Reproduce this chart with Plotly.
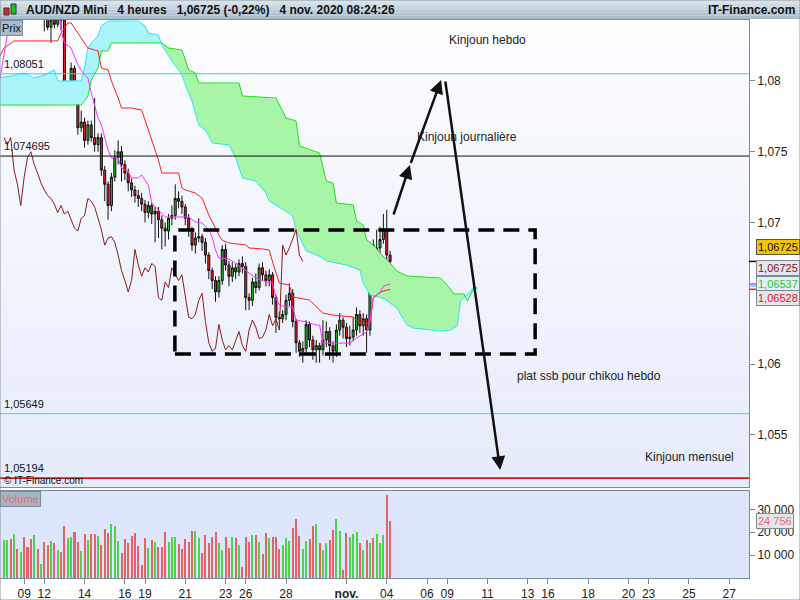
import numpy as np
import plotly.graph_objects as go

# ---------------- data ----------------
bar_index = list(range(116))

opens = [1.0852,1.0854,1.0857,1.0855,1.0861,1.0857,1.0859,1.0856,1.0853,1.0850,
         1.0852,1.0849,1.0852,1.0847,1.0838,1.0843,1.0840,1.0845,1.0843,1.0792,
         1.0795,1.0809,1.0790,1.0767,1.0771,1.0758,1.0769,1.0760,1.0755,1.0760,
         1.0737,1.0727,1.0712,1.0732,1.0746,1.0750,1.0741,1.0735,1.0728,1.0723,
         1.0719,1.0717,1.0713,1.0707,1.0712,1.0706,1.0708,1.0702,1.0696,1.0694,
         1.0703,1.0705,1.0717,1.0715,1.0711,1.0703,1.0695,1.0684,1.0689,1.0690,
         1.0686,1.0677,1.0666,1.0659,1.0651,1.0659,1.0681,1.0670,1.0662,1.0668,
         1.0665,1.0671,1.0669,1.0647,1.0645,1.0658,1.0654,1.0668,1.0663,1.0659,
         1.0663,1.0647,1.0633,1.0632,1.0635,1.0645,1.0650,1.0630,1.0615,1.0609,
         1.0611,1.0628,1.0617,1.0610,1.0613,1.0610,1.0617,1.0623,1.0613,1.0609,
         1.0624,1.0631,1.0626,1.0618,1.0619,1.0624,1.0635,1.0627,1.0632,1.0624,
         1.0684,1.0677,1.0682,1.0688,1.0695,1.0677]
highs = [1.0858,1.0860,1.0861,1.0864,1.0863,1.0862,1.0861,1.0858,1.0855,1.0854,
         1.0854,1.0854,1.0854,1.0849,1.0846,1.0846,1.0848,1.0850,1.0846,1.0800,
         1.0813,1.0811,1.0792,1.0779,1.0774,1.0772,1.0772,1.0788,1.0763,1.0763,
         1.0740,1.0729,1.0735,1.0751,1.0758,1.0754,1.0744,1.0738,1.0731,1.0726,
         1.0723,1.0721,1.0716,1.0715,1.0714,1.0711,1.0711,1.0705,1.0700,1.0706,
         1.0712,1.0727,1.0722,1.0719,1.0713,1.0706,1.0697,1.0693,1.0703,1.0692,
         1.0689,1.0679,1.0668,1.0662,1.0662,1.0684,1.0685,1.0673,1.0672,1.0671,
         1.0674,1.0676,1.0672,1.0650,1.0661,1.0664,1.0671,1.0672,1.0666,1.0667,
         1.0665,1.0649,1.0637,1.0638,1.0649,1.0657,1.0653,1.0632,1.0617,1.0616,
         1.0631,1.0630,1.0620,1.0617,1.0615,1.0631,1.0630,1.0626,1.0616,1.0628,
         1.0636,1.0633,1.0629,1.0627,1.0633,1.0640,1.0638,1.0636,1.0635,1.0686,
         1.0688,1.0695,1.0697,1.0706,1.0709,1.0680]
lows = [1.0849,1.0851,1.0852,1.0853,1.0855,1.0855,1.0853,1.0850,1.0848,1.0847,
        1.0847,1.0847,1.0835,1.0836,1.0827,1.0837,1.0838,1.0836,1.0789,1.0788,
        1.0792,1.0786,1.0762,1.0764,1.0753,1.0755,1.0757,1.0750,1.0750,1.0733,
        1.0715,1.0702,1.0708,1.0729,1.0741,1.0729,1.0730,1.0722,1.0718,1.0714,
        1.0711,1.0708,1.0700,1.0703,1.0699,1.0686,1.0689,1.0681,1.0683,1.0688,
        1.0698,1.0702,1.0710,1.0706,1.0698,1.0690,1.0680,1.0678,1.0686,1.0680,
        1.0671,1.0660,1.0653,1.0644,1.0647,1.0656,1.0666,1.0655,1.0658,1.0660,
        1.0662,1.0664,1.0638,1.0638,1.0641,1.0650,1.0652,1.0659,1.0655,1.0655,
        1.0642,1.0622,1.0628,1.0629,1.0631,1.0641,1.0626,1.0608,1.0605,1.0601,
        1.0607,1.0612,1.0603,1.0601,1.0601,1.0606,1.0612,1.0603,1.0601,1.0605,
        1.0620,1.0618,1.0612,1.0613,1.0616,1.0620,1.0622,1.0620,1.0608,1.0620,
        1.0662,1.0673,1.0675,1.0685,1.0650,1.0669]
closes = [1.0854,1.0857,1.0855,1.0861,1.0857,1.0859,1.0856,1.0853,1.0850,1.0852,
          1.0849,1.0852,1.0847,1.0838,1.0843,1.0840,1.0845,1.0843,1.0792,1.0795,
          1.0809,1.0790,1.0767,1.0771,1.0758,1.0769,1.0760,1.0755,1.0760,1.0737,
          1.0727,1.0712,1.0732,1.0746,1.0750,1.0741,1.0735,1.0728,1.0723,1.0719,
          1.0717,1.0713,1.0707,1.0712,1.0706,1.0708,1.0702,1.0696,1.0694,1.0703,
          1.0705,1.0717,1.0715,1.0711,1.0703,1.0695,1.0684,1.0689,1.0690,1.0686,
          1.0677,1.0666,1.0659,1.0651,1.0659,1.0681,1.0670,1.0662,1.0668,1.0665,
          1.0671,1.0669,1.0647,1.0645,1.0658,1.0654,1.0668,1.0663,1.0659,1.0663,
          1.0647,1.0633,1.0632,1.0635,1.0645,1.0650,1.0630,1.0615,1.0609,1.0611,
          1.0628,1.0617,1.0610,1.0613,1.0610,1.0617,1.0623,1.0613,1.0609,1.0624,
          1.0631,1.0626,1.0618,1.0619,1.0624,1.0635,1.0627,1.0632,1.0624,1.0684,
          1.0677,1.0682,1.0688,1.0695,1.0677,1.06725]
volumes = [16600,16600,17000,19200,12700,11400,17900,13500,17000,18800,
           12700,6100,15700,14400,16200,15300,12200,11400,22700,17500,
           17900,20100,15700,11800,19200,16600,19200,19200,18300,14400,
           21400,19700,23600,22700,16200,10900,17000,15300,18300,19700,
           14000,5700,17500,13100,16600,15700,13500,13500,20100,15700,
           17900,17900,14900,12700,17000,15700,20500,20500,17500,10900,
           18800,15300,17900,20100,15300,12200,17900,13100,17900,17500,
           14400,4800,17900,15700,18800,18800,15700,10500,19700,17500,
           17900,17900,12700,14400,17500,16200,21800,25800,18300,12700,
           16200,17000,22700,23600,15300,12200,15300,16600,21000,25800,
           20500,3500,19700,17900,19200,20100,15300,12200,16600,15300,
           17500,19200,15300,18800,36200,24756]

tenkan_idx = [-2,-1,0,1,2,5,10,16,17,18,20,22,24,25,26,28,29,31,32,34,35,37,38,40,41,43,44,
              46,48,50,55,57,59,61,62,63,64,67,69,71,73,75,78,80,81,82,84,86,87,90,93,94,95,
              103,105,108,109,110,112,113,115]
tenkan_val = [1.0797,1.08042,1.08184,1.08325,1.08466,1.0858,1.0859,1.0855,1.0836,1.08269,1.08233,
              1.08113,1.08042,1.08021,1.07915,1.07739,1.07689,1.07512,1.07456,1.07456,1.07385,
              1.07357,1.07315,1.07315,1.07336,1.07265,1.07138,1.07088,1.07039,1.07039,1.07039,
              1.07004,1.06997,1.06947,1.06898,1.06806,1.06749,1.06742,1.06714,1.06678,1.06643,
              1.06608,1.0658,1.06572,1.06466,1.06417,1.06403,1.06403,1.06311,1.06297,1.06276,
              1.06276,1.06148,1.06148,1.06184,1.06226,1.06311,1.06474,1.06502,1.06551,1.06565]

kijun_idx = [-2,-1,0,3,16,17,19,20,23,25,28,29,31,32,34,35,38,41,42,43,44,45,46,47,52,53,54,
             57,59,61,62,64,65,67,72,73,77,79,80,82,85,86,91,93,95,98,104,106,109,110,112,115]
kijun_val = [1.0814,1.08184,1.08233,1.08283,1.08283,1.08339,1.0841,1.0841,1.08304,1.08233,
             1.08212,1.08092,1.08078,1.08,1.0788,1.07809,1.07809,1.07795,1.07724,1.07654,
             1.07569,1.07512,1.07442,1.0735,1.0735,1.07244,1.0723,1.07208,1.07173,1.07053,
             1.07004,1.06912,1.06876,1.06855,1.06841,1.0682,1.06813,1.06806,1.06721,1.06572,
             1.06558,1.06474,1.06452,1.06403,1.0636,1.06346,1.06332,1.0629,1.0629,1.06466,
             1.06509,1.06528]

ssa_idx = [-2,23,24,25,26,28,29,31,32,47,49,53,55,57,58,70,71,81,84,87,88,92,94,96,98,99,104,
           105,107,108,110,112,115,117,120,130,132,134,137,138,140,141]
ssa_val = [1.0783,1.0783,1.07859,1.07894,1.08007,1.08092,1.08212,1.08212,1.08269,1.08269,1.08233,
           1.08219,1.08078,1.08057,1.07986,1.07986,1.07894,1.0788,1.07739,1.07717,1.07541,
           1.07505,1.07491,1.07293,1.07279,1.07138,1.07124,1.07011,1.06982,1.06876,1.06841,
           1.06784,1.06714,1.06657,1.06622,1.06608,1.06558,1.06495,1.06495,1.06445,1.06537,
           1.06537]

ssb_idx = [-2,2,6,9,12,15,16,23,24,25,26,28,29,31,40,42,43,46,47,50,53,54,56,58,60,62,67,69,71,
           75,78,79,84,86,87,90,94,96,102,106,107,109,113,117,120,122,130,133,135,136,139,140,141]
ssb_val = [1.08021,1.08035,1.08057,1.08021,1.08042,1.08078,1.08,1.08,1.08092,1.08233,1.08269,
           1.08318,1.08389,1.08424,1.08424,1.08389,1.08339,1.08325,1.08254,1.08141,1.08042,
           1.07972,1.07859,1.07689,1.07654,1.07562,1.07548,1.07456,1.07315,1.07293,1.07208,
           1.07152,1.0708,1.07046,1.06947,1.06799,1.06763,1.06728,1.067,1.06664,1.06572,
           1.06488,1.06466,1.06396,1.06276,1.06254,1.06233,1.0624,1.06269,1.06445,1.06516,
           1.06551,1.0653]

chikou_shift = 26

tick_positions = [6, 12, 24, 36, 42, 54, 66, 72, 84, 102, 114, 126, 132, 144, 156, 162, 174,
                  186, 192, 204, 216]
tick_labels = ["09", "12", "14", "16", "19", "21", "23", "26", "28", "<b>nov.</b>", "04", "06",
               "09", "11", "13", "16", "18", "20", "23", "25", "27"]

price_ticks = [1.055, 1.06, 1.07, 1.075, 1.08]
price_tick_labels = ["1,055", "1,06", "1,07", "1,075", "1,08"]
volume_ticks = [10000, 20000, 30000]

level_values = [1.08051, 1.074695, 1.05649, 1.05194]
level_labels = ["1,08051", "1,074695", "1,05649", "1,05194"]

header_text = "AUD/NZD Mini   4 heures   1,06725 (-0,22%)   4 nov. 2020 08:24:26"
notes = ["Kinjoun hebdo", "Kinjoun journalière", "plat ssb pour chikou hebdo", "Kinjoun mensuel"]

# ---------------- styling / layout constants ----------------
W, H = 800, 600
FONT = "Liberation Sans, Arial, sans-serif"
XR = 749 / W
PRICE_DOM = [113 / H, 580 / H]
VOL_DOM = [22 / H, 109 / H]
BORDER = "#7b8b98"
GREEN_FILL = "#a8f5a8"
CYAN_FILL = "#aaf5fa"

fig = go.Figure()

# Ichimoku cloud fills (drawn between the two spans)
grid = np.arange(-2, 141.001, 0.05)
a = np.interp(grid, ssa_idx, ssa_val)
b = np.interp(grid, ssb_idx, ssb_val)
lo = np.minimum(a, b)
for upper, col in ((a, GREEN_FILL), (b, CYAN_FILL)):
    fig.add_trace(go.Scatter(x=grid, y=lo, mode="lines", line=dict(width=0),
                             hoverinfo="skip", showlegend=False))
    fig.add_trace(go.Scatter(x=grid, y=upper, mode="lines", line=dict(width=0),
                             fill="tonexty", fillcolor=col, hoverinfo="skip", showlegend=False))

fig.add_trace(go.Scatter(x=ssa_idx, y=ssa_val, mode="lines", line=dict(color="#1ee01e", width=1),
                         showlegend=False))
fig.add_trace(go.Scatter(x=ssb_idx, y=ssb_val, mode="lines", line=dict(color="#2ee6f0", width=1),
                         showlegend=False))

# Chikou span: close shifted back 26 bars
fig.add_trace(go.Scatter(x=[i - chikou_shift for i in bar_index[chikou_shift:]],
                         y=closes[chikou_shift:], mode="lines",
                         line=dict(color="#8b1c1c", width=1), showlegend=False))

fig.add_trace(go.Candlestick(x=bar_index, open=opens, high=highs, low=lows, close=closes,
                             increasing=dict(line=dict(color="#111111", width=1), fillcolor="#19c219"),
                             decreasing=dict(line=dict(color="#111111", width=1), fillcolor="#e8202c"),
                             whiskerwidth=0, showlegend=False))

fig.add_trace(go.Scatter(x=kijun_idx, y=kijun_val, mode="lines", line=dict(color="#ff1f1f", width=1),
                         showlegend=False))
fig.add_trace(go.Scatter(x=tenkan_idx, y=tenkan_val, mode="lines", line=dict(color="#ff2eff", width=1),
                         showlegend=False))

vol_colors = ["#4fd24a" if c >= o else "#e36464" for o, c in zip(opens, closes)]
fig.add_trace(go.Bar(x=bar_index, y=volumes, marker=dict(color=vol_colors, line=dict(width=0)),
                     width=0.6, xaxis="x2", yaxis="y2", showlegend=False))

# ---------------- shapes ----------------
shapes = []
n = 40
y0p, y1p = PRICE_DOM
for k in range(n):
    t = k / (n - 1)
    r = int(252 - (252 - 230) * t)
    g = int(253 - (253 - 236) * t)
    bcol = int(255 - (255 - 251) * t)
    shapes.append(dict(type="rect", xref="paper", yref="paper", x0=0, x1=XR,
                       y0=y1p - (k + 1) * (y1p - y0p) / n, y1=y1p - k * (y1p - y0p) / n,
                       fillcolor=f"rgb({r},{g},{bcol})", line=dict(width=0), layer="below"))
shapes.append(dict(type="rect", xref="paper", yref="paper", x0=0, x1=XR, y0=VOL_DOM[0], y1=VOL_DOM[1],
                   fillcolor="#dde6fc", line=dict(width=0), layer="below"))
hb = 6
for k in range(hb):
    t = k / (hb - 1)
    r = int(216 - (216 - 170) * t)
    g = int(226 - (226 - 189) * t)
    bcol = int(234 - (234 - 204) * t)
    shapes.append(dict(type="rect", xref="paper", yref="paper", x0=0, x1=1,
                       y0=1 - (k + 1) * 19 / H / hb, y1=1 - k * 19 / H / hb,
                       fillcolor=f"rgb({r},{g},{bcol})", line=dict(width=0), layer="below"))
shapes.append(dict(type="rect", xref="paper", yref="paper", x0=4 / W, x1=9 / W,
                   y0=1 - 15 / H, y1=1 - 8 / H, fillcolor="#e8202c", line=dict(color="#333", width=1)))
shapes.append(dict(type="rect", xref="paper", yref="paper", x0=11 / W, x1=16 / W,
                   y0=1 - 14 / H, y1=1 - 4 / H, fillcolor="#19c219", line=dict(color="#333", width=1)))
level_styles = [("#4cc4ef", 1), ("#111111", 1), ("#4cc4ef", 1), ("#dd1515", 1.6)]
for v, (col, wd) in zip(level_values, level_styles):
    shapes.append(dict(type="line", xref="paper", yref="y", x0=0, x1=XR, y0=v, y1=v,
                       line=dict(color=col, width=wd)))
shapes.append(dict(type="rect", xref="x", yref="y", x0=50.9, x1=158.2, y0=1.06071, y1=1.06947,
                   line=dict(color="black", width=3.5, dash="16px,9px")))
for yv, col in ((1.06725, "#111"), (1.06565, "#ff2eff"), (1.0655, "#2ee6f0"), (1.06528, "#ff1f1f")):
    shapes.append(dict(type="line", xref="paper", yref="y", x0=XR, x1=XR + 7 / W, y0=yv, y1=yv,
                       line=dict(color=col, width=1.5)))
shapes.append(dict(type="rect", xref="paper", yref="paper", x0=0, x1=1, y0=0, y1=1,
                   line=dict(color="#8a98a4", width=1)))

# ---------------- annotations ----------------
ann = []
ann.append(dict(xref="paper", yref="paper", x=24 / W, y=1 - 9.5 / H, xanchor="left", yanchor="middle",
                text="<b>" + header_text.replace(" ", "&nbsp;") + "</b>", showarrow=False,
                font=dict(size=12, color="#111", family=FONT)))
ann.append(dict(xref="paper", yref="paper", x=797 / W, y=1 - 9.5 / H, xanchor="right", yanchor="middle",
                text="<b>IT-Finance.com</b>", showarrow=False, font=dict(size=12, color="#111", family=FONT)))
ann.append(dict(xref="paper", yref="paper", x=0, y=PRICE_DOM[1], xanchor="left", yanchor="top",
                text="Prix", showarrow=False, bgcolor="#a9bccb", bordercolor="#7b8b98", borderwidth=1,
                borderpad=1, font=dict(size=11, color="#111", family=FONT)))
ann.append(dict(xref="paper", yref="paper", x=0, y=VOL_DOM[1], xanchor="left", yanchor="top",
                text="Volume", showarrow=False, bgcolor="#a3b6c3", bordercolor="#7b8b98", borderwidth=1,
                borderpad=1, font=dict(size=11, color="#e86a6a", family=FONT)))
ann.append(dict(xref="paper", yref="paper", x=2 / W, y=PRICE_DOM[0], xanchor="left",
                yanchor="bottom", text="© IT-Finance.com", showarrow=False, yshift=-1,
                font=dict(size=10, color="#111", family=FONT)))
for v, lab in zip(level_values, level_labels):
    ann.append(dict(xref="paper", yref="y", x=2 / W, y=v, xanchor="left", yanchor="bottom",
                    text=lab, showarrow=False, yshift=2,
                    font=dict(size=11, color="#111", family=FONT)))
note_pos = [(487, 40), (467, 137), (589, 376), (689, 457)]
for txt, (px, py) in zip(notes, note_pos):
    ann.append(dict(xref="paper", yref="paper", x=px / W, y=1 - py / H, xanchor="center",
                    yanchor="middle", text=txt, showarrow=False,
                    font=dict(size=12, color="#222", family=FONT)))
for (hx, hy, tx, ty) in ((120.9, 1.07406, 115.9, 1.07046),
                         (130.2, 1.08007, 121.0, 1.0741),
                         (147.8, 1.05251, 131.4, 1.08007)):
    ann.append(dict(xref="x", yref="y", axref="x", ayref="y", x=hx, y=hy, ax=tx, ay=ty,
                    text="", showarrow=True, arrowhead=2, arrowsize=1.1, arrowwidth=2.5,
                    arrowcolor="#111"))


def fmt(v):
    return f"{v:.5f}".replace(".", ",")


box_font = dict(size=11, family=FONT)
BX = 756 / W
ann.append(dict(xref="paper", yref="paper", x=BX, y=1 - 247 / H, xanchor="left", yanchor="middle",
                text=fmt(closes[-1]), showarrow=False, bgcolor="#f5c400", bordercolor="#555",
                borderwidth=1, borderpad=1, font=dict(box_font, color="#111")))
ann.append(dict(xref="paper", yref="paper", x=BX, y=1 - 268 / H, xanchor="left", yanchor="middle",
                text=fmt(closes[-1]), showarrow=False, bgcolor="#e2e6ef", bordercolor="#7b8b98",
                borderwidth=1, borderpad=1, font=dict(box_font, color="#8b1010")))
ann.append(dict(xref="paper", yref="paper", x=BX, y=1 - 284 / H, xanchor="left", yanchor="middle",
                text=fmt(ssa_val[-1]), showarrow=False, bgcolor="#e8ecf4", bordercolor="#7b8b98",
                borderwidth=1, borderpad=1, font=dict(box_font, color="#22cc22")))
ann.append(dict(xref="paper", yref="paper", x=BX, y=1 - 298 / H, xanchor="left", yanchor="middle",
                text=fmt(kijun_val[-1]), showarrow=False, bgcolor="#e2e6ef", bordercolor="#7b8b98",
                borderwidth=1, borderpad=1, font=dict(box_font, color="#ee1111")))
ann.append(dict(xref="paper", yref="y2", x=BX, y=volumes[-1], xanchor="left", yanchor="middle",
                text=f"{volumes[-1]:,}".replace(",", " "), showarrow=False, bgcolor="#e2e6ef",
                bordercolor="#7b8b98", borderwidth=1, borderpad=1,
                font=dict(box_font, color="#e86a6a")))

x_range = [-1.19, 221.9]
axis_common = dict(showgrid=False, zeroline=False, showline=True, linecolor=BORDER, linewidth=1,
                   mirror=True)

fig.update_layout(
    width=W, height=H, margin=dict(l=0, r=0, t=0, b=0),
    paper_bgcolor="white", plot_bgcolor="rgba(0,0,0,0)",
    separators=", ", showlegend=False, font=dict(family=FONT, size=12, color="#222"),
    xaxis=dict(domain=[0, XR], range=x_range, anchor="y", showticklabels=False, ticks="",
               rangeslider=dict(visible=False), **axis_common),
    yaxis=dict(domain=PRICE_DOM, range=[1.05131, 1.08431], side="right", anchor="x",
               tickvals=price_ticks, ticktext=price_tick_labels, ticks="outside", ticklen=5,
               tickcolor=BORDER, tickfont=dict(size=12, color="#222"), **axis_common),
    xaxis2=dict(domain=[0, XR], range=x_range, anchor="y2", matches="x", tickvals=tick_positions,
                ticktext=tick_labels, ticks="outside", ticklen=5, tickcolor=BORDER,
                tickfont=dict(size=12, color="#222"), **axis_common),
    yaxis2=dict(domain=VOL_DOM, range=[0, 37990], side="right", anchor="x2", tickvals=volume_ticks,
                tickformat=",d", ticks="outside", ticklen=5, tickcolor=BORDER,
                tickfont=dict(size=12, color="#222"), **axis_common),
    shapes=shapes, annotations=ann, bargap=0, boxgap=0.15,
)

fig.write_html("out.html", config={"displayModeBar": False},
               post_script="document.body.style.margin='0';document.body.style.overflow='hidden';")
